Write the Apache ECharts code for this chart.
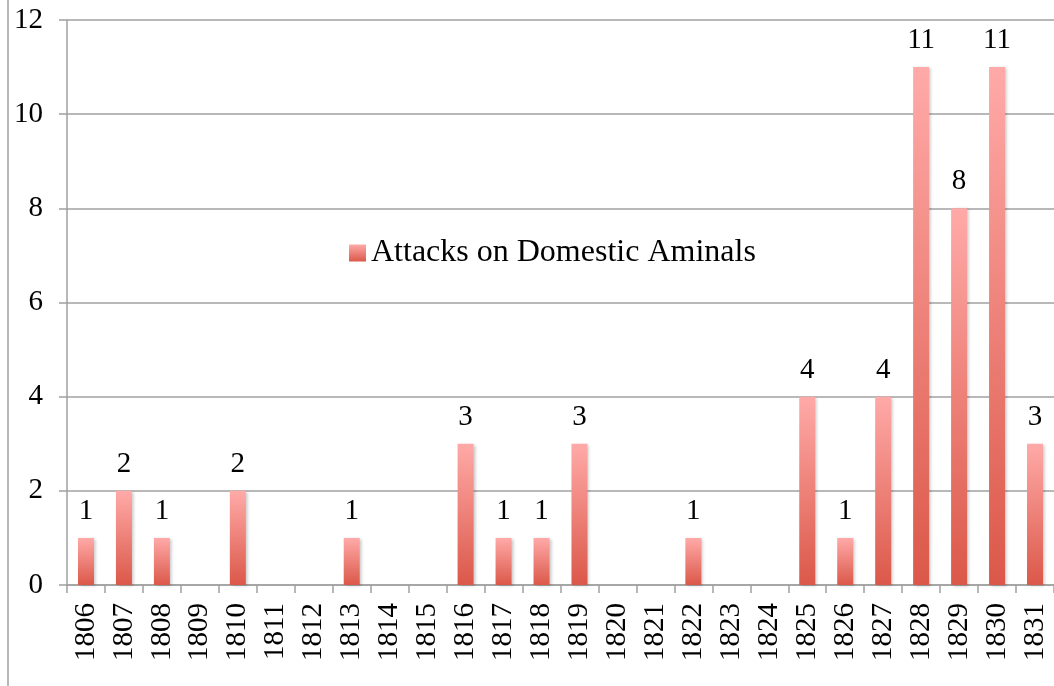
<!DOCTYPE html>
<html>
<head>
<meta charset="utf-8">
<script src="https://cdn.jsdelivr.net/npm/echarts@6/dist/echarts.min.js"></script>
<style>
  html, body { margin: 0; padding: 0; background: #fff; }
  #chart { width: 1054px; height: 686px; }
</style>
</head>
<body>
<div id="chart"></div>
<script>
var years = ["1806", "1807", "1808", "1809", "1810", "1811", "1812", "1813", "1814",
  "1815", "1816", "1817", "1818", "1819", "1820", "1821", "1822", "1823", "1824",
  "1825", "1826", "1827", "1828", "1829", "1830", "1831"];
var attacks = [1, 2, 1, 0, 2, 0, 0, 1, 0, 0, 3, 1, 1, 3, 0, 0, 1, 0, 0, 4, 1, 4, 11, 8, 11, 3];
var seriesName = "Attacks on Domestic Aminals";

var font = "'Liberation Serif', 'DejaVu Serif', serif";
var chart = echarts.init(document.getElementById("chart"));

var option = {
  animation: false,
  textStyle: { fontFamily: font },
  grid: {
    left: 67,
    top: 20,
    width: 991,
    height: 565
  },
  legend: {
    data: [seriesName],
    left: 344,
    top: 232,
    icon: "rect",
    itemWidth: 17,
    itemHeight: 17,
    itemGap: 6,
    textStyle: { fontFamily: font, fontSize: 32, color: "#000" }
  },
  xAxis: {
    type: "category",
    data: years,
    axisLine: { lineStyle: { color: "#a0a0a0", width: 1.5 } },
    axisTick: { show: true, length: 8, lineStyle: { color: "#a0a0a0", width: 1.5 } },
    axisLabel: {
      interval: 0,
      hideOverlap: false,
      rotate: 90,
      margin: 18,
      fontFamily: font,
      fontSize: 29,
      color: "#000"
    }
  },
  yAxis: {
    type: "value",
    min: 0,
    max: 12,
    interval: 2,
    axisLine: { show: true, lineStyle: { color: "#a0a0a0", width: 1.5 } },
    axisTick: { show: true, length: 8, inside: false, lineStyle: { color: "#a0a0a0", width: 1.5 } },
    splitLine: { lineStyle: { color: "#a0a0a0", width: 1.5 } },
    axisLabel: {
      margin: 24,
      fontFamily: font,
      fontSize: 29,
      color: "#000"
    }
  },
  series: [
    {
      name: seriesName,
      type: "bar",
      data: attacks,
      barWidth: 16,
      itemStyle: {
        color: new echarts.graphic.LinearGradient(0, 0, 0, 1, [
          { offset: 0, color: "#ffaaa8" },
          { offset: 1, color: "#db5849" }
        ]),
        shadowColor: "rgba(0,0,0,0.22)",
        shadowBlur: 3,
        shadowOffsetX: 2,
        shadowOffsetY: 1
      },
      label: {
        show: true,
        position: "top",
        distance: 12,
        fontFamily: font,
        fontSize: 29,
        color: "#000",
        formatter: function (p) { return p.value === 0 ? "" : String(p.value); }
      }
    }
  ],
  graphic: [
    {
      type: "line",
      shape: { x1: 8, y1: 0, x2: 8, y2: 686 },
      style: { stroke: "#a0a0a0", lineWidth: 1.5 }
    }
  ]
};

chart.setOption(option);
</script>
</body>
</html>
